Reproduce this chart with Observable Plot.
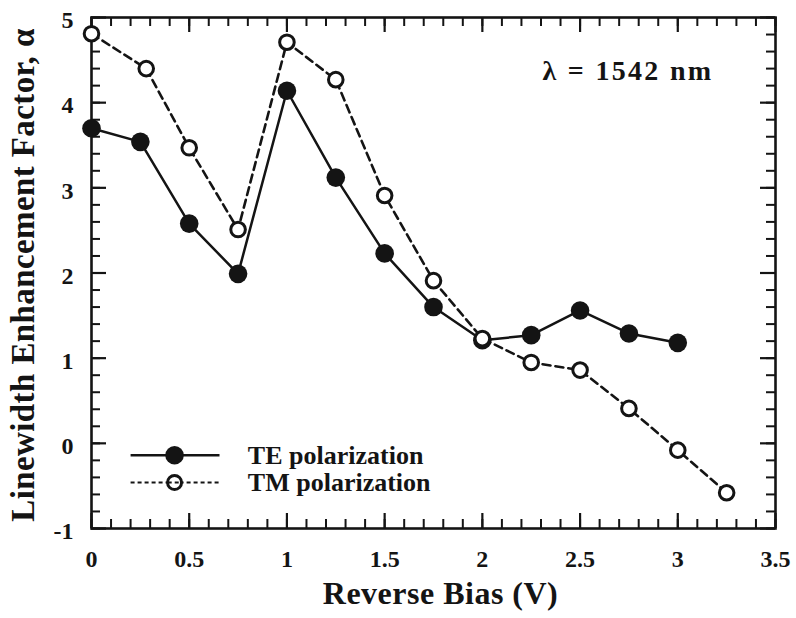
<!DOCTYPE html>
<html><head><meta charset="utf-8">
<script src="https://cdn.jsdelivr.net/npm/d3@7"></script>
<script src="https://cdn.jsdelivr.net/npm/@observablehq/plot@0.6"></script>
<style>
body{margin:0;background:#fff;}
#chart svg{display:block;}
</style>
</head><body><div id="chart"></div>
<script>
// TE polarization (filled circles, solid line)
const teBias  = [0, 0.25, 0.5, 0.75, 1.0, 1.25, 1.5, 1.75, 2.0, 2.25, 2.5, 2.75, 3.0];
const teAlpha = [3.70, 3.54, 2.58, 1.99, 4.14, 3.12, 2.23, 1.60, 1.21, 1.27, 1.56, 1.29, 1.18];
// TM polarization (open circles, dashed line)
const tmBias  = [0, 0.28, 0.5, 0.75, 1.0, 1.25, 1.5, 1.75, 2.0, 2.25, 2.5, 2.75, 3.0, 3.25];
const tmAlpha = [4.81, 4.40, 3.47, 2.51, 4.71, 4.27, 2.91, 1.91, 1.23, 0.95, 0.86, 0.41, -0.08, -0.58];

const xTicks = [0, 0.5, 1, 1.5, 2, 2.5, 3, 3.5];
const yTicks = [-1, 0, 1, 2, 3, 4, 5];
const xMinorTicks = d3.range(0, 3.501, 0.1);
const yMinorTicks = d3.range(-1, 5.001, 0.2);
const seriesNames = ["TE polarization", "TM polarization"];
const xTitle = "Reverse Bias (V)";
const yTitle = "Linewidth Enhancement Factor, α";
const note = "λ = 1542 nm";

const te = teBias.map((x, i) => ({x, y: teAlpha[i]}));
const tm = tmBias.map((x, i) => ({x, y: tmAlpha[i]}));

const W = 796, H = 618, ML = 91, MR = 21, MT = 17, MB = 90;
const FW = W - ML - MR, FH = H - MT - MB;
const ink = "#141414";
const fmt = d => String(d);

const chart = Plot.plot({
  width: W, height: H,
  marginLeft: ML, marginRight: MR, marginTop: MT, marginBottom: MB,
  style: {fontFamily: "'Liberation Serif', 'Times New Roman', serif", fontSize: "24px", fontWeight: "bold", color: ink, background: "#fff"},
  x: {domain: [0, 3.5], axis: null},
  y: {domain: [-1, 5], axis: null},
  marks: [
    // inward ticks on all four sides
    Plot.tickX(xMinorTicks, {x: d => d, insetTop: FH - 9, stroke: ink, strokeWidth: 2}),
    Plot.tickX(xTicks, {x: d => d, insetTop: FH - 15, stroke: ink, strokeWidth: 2.2}),
    Plot.tickX(xMinorTicks, {x: d => d, insetBottom: FH - 9, stroke: ink, strokeWidth: 2}),
    Plot.tickX(xTicks, {x: d => d, insetBottom: FH - 15, stroke: ink, strokeWidth: 2.2}),
    Plot.tickY(yMinorTicks, {y: d => d, insetRight: FW - 9, stroke: ink, strokeWidth: 2}),
    Plot.tickY(yTicks, {y: d => d, insetRight: FW - 15, stroke: ink, strokeWidth: 2.2}),
    Plot.tickY(yMinorTicks, {y: d => d, insetLeft: FW - 9, stroke: ink, strokeWidth: 2}),
    Plot.tickY(yTicks, {y: d => d, insetLeft: FW - 15, stroke: ink, strokeWidth: 2.2}),
    Plot.frame({stroke: ink, strokeWidth: 2.6}),
    // tick labels
    Plot.text(xTicks, {x: d => d, text: fmt, frameAnchor: "bottom", lineAnchor: "top", textAnchor: "middle", dy: 21, fontSize: 24, fontWeight: "bold", fill: ink}),
    Plot.text(yTicks, {y: d => d, text: fmt, frameAnchor: "left", lineAnchor: "middle", textAnchor: "end", dx: -18, dy: 3, fontSize: 24, fontWeight: "bold", fill: ink}),
    // series
    Plot.line(te, {x: "x", y: "y", stroke: ink, strokeWidth: 2.5}),
    Plot.line(tm, {x: "x", y: "y", stroke: ink, strokeWidth: 2.6, strokeDasharray: "8,5"}),
    Plot.dot(te, {x: "x", y: "y", r: 9.3, fill: ink, stroke: "none"}),
    Plot.dot(tm, {x: "x", y: "y", r: 7.3, fill: "#fff", stroke: ink, strokeWidth: 3}),
    // legend (inside, lower left)
    Plot.link([seriesNames[0]], {x1: 0.2, x2: 0.655, y1: -0.14, y2: -0.14, stroke: ink, strokeWidth: 2.5}),
    Plot.dot([seriesNames[0]], {x: 0.425, y: -0.14, r: 9.3, fill: ink}),
    Plot.link([seriesNames[1]], {x1: 0.2, x2: 0.655, y1: -0.46, y2: -0.46, stroke: ink, strokeWidth: 2, strokeDasharray: "4,3"}),
    Plot.dot([seriesNames[1]], {x: 0.425, y: -0.46, r: 7, fill: "#fff", stroke: ink, strokeWidth: 3}),
    Plot.link([seriesNames[1]], {x1: 0.39, x2: 0.46, y1: -0.46, y2: -0.46, stroke: ink, strokeWidth: 2, strokeDasharray: "4,3"}),
    Plot.text(seriesNames, {x: 0.8, y: [-0.14, -0.46], textAnchor: "start", lineAnchor: "middle", fontSize: 26, fontWeight: "bold", fill: ink}),
    // annotation
    Plot.text([note], {frameAnchor: "top-left", dx: 451, dy: 54, textAnchor: "start", lineAnchor: "middle", fontSize: 28, fontWeight: "bold", fill: ink}),
    // axis titles
    Plot.text([xTitle], {frameAnchor: "bottom", dx: 7, dy: 65, textAnchor: "middle", lineAnchor: "middle", fontSize: 32, fontWeight: "bold", fill: ink}),
    Plot.text([yTitle], {frameAnchor: "left", rotate: -90, dx: -68, dy: 2, textAnchor: "middle", lineAnchor: "middle", fontSize: 33, fontWeight: "bold", fill: ink})
  ]
});
const sel = d3.select(chart);
sel.selectAll("text").filter(function() { return this.textContent === note; })
  .style("letter-spacing", "2.3px");
sel.selectAll("text").filter(function() { return this.textContent === xTitle; })
  .style("letter-spacing", "0.5px");
sel.selectAll("text").filter(function() { return this.textContent === yTitle; })
  .style("letter-spacing", "0.4px");
document.getElementById("chart").appendChild(chart);
</script>
</body></html>
